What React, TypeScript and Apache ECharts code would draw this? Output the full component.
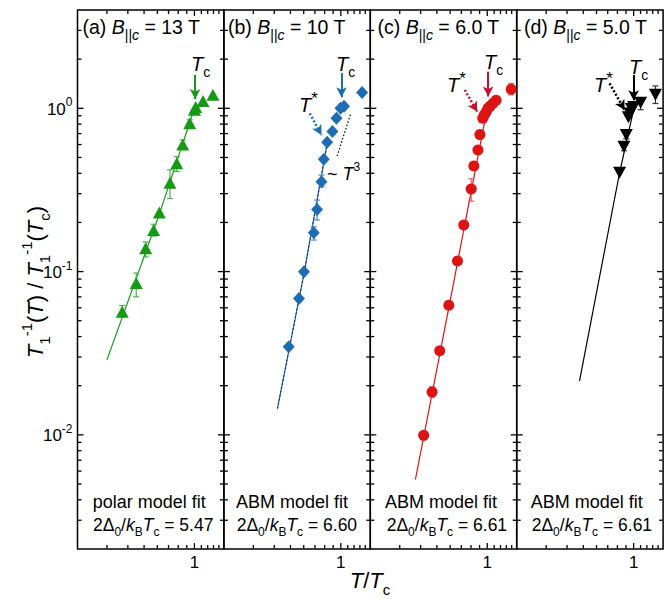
import React, { useEffect, useRef } from 'react';
import * as echarts from 'echarts';

const FONT = '"Liberation Sans", Arial, Helvetica, sans-serif';
const X_MIN = 0.2;
const X_MAX = 1.5;
const Y_MIN = 0.002;
const Y_MAX = 4;

// ---- texts ----
const panelLetters = ['(a)', '(b)', '(c)', '(d)'];
const fieldLabels = ['13 T', '10 T', '6.0 T', '5.0 T'];
const fitLabels = ['polar model fit', 'ABM model fit', 'ABM model fit', 'ABM model fit'];
const gapLabels = ['5.47', '6.60', '6.61', '6.61'];

// ---- tick values ----
const xMajorTicks = [1];
const xMinorTicks = [0.3, 0.4, 0.5, 0.6, 0.7, 0.8, 0.9, 1.1, 1.2, 1.3, 1.4];
const yMajorTicks = [0.01, 0.1, 1];
const yMajorExponents = [-2, -1, 0];
const yMinorTicks = [0.003, 0.004, 0.005, 0.006, 0.007, 0.008, 0.009, 0.02, 0.03, 0.04, 0.05, 0.06, 0.07, 0.08, 0.09, 0.2, 0.3, 0.4, 0.5, 0.6, 0.7, 0.8, 0.9, 2, 3];
const xTickLabelValues = [1];

// ---- (a) B||c = 13 T ----
const aT = [0.37, 0.449, 0.511, 0.57, 0.617, 0.714, 0.784, 0.851, 0.937, 1.0, 1.018, 1.125, 1.29];
const aR = [0.0567, 0.085, 0.139, 0.18, 0.23, 0.35, 0.46, 0.6, 0.81, 0.98, 1.02, 1.11, 1.21];
const aErrT = [0.37, 0.449, 0.511, 0.57, 0.714, 0.784, 0.851, 0.937];
const aErrLo = [0.053, 0.07, 0.123, 0.165, 0.28, 0.41, 0.57, 0.77];
const aErrHi = [0.062, 0.098, 0.152, 0.195, 0.42, 0.505, 0.64, 0.85];
const aFitT = [0.3, 0.617, 1.0];
const aFitR = [0.0288, 0.225, 1.0];

// ---- (b) B||c = 10 T ----
const bT = [0.488, 0.562, 0.602, 0.689, 0.721, 0.766, 0.791, 0.828, 0.891, 0.942, 0.995, 1.045, 1.34];
const bR = [0.0346, 0.0685, 0.0998, 0.173, 0.24, 0.355, 0.487, 0.62, 0.72, 0.87, 1.0, 1.03, 1.25];
const bErrT = [0.689, 0.721, 0.766];
const bErrLo = [0.156, 0.207, 0.33];
const bErrHi = [0.188, 0.274, 0.39];
const bFitT = [0.418, 0.602, 0.84];
const bFitR = [0.0145, 0.097, 0.66];
const bPowT = [0.95, 1.143];
const bPowR = [0.51, 0.92];

// ---- (c) B||c = 6.0 T ----
const cT = [0.417, 0.468, 0.52, 0.589, 0.664, 0.724, 0.802, 0.832, 0.88, 0.904, 0.94, 0.96, 0.985, 1.01, 1.04, 1.08, 1.13, 1.39];
const cR = [0.00996, 0.0183, 0.0327, 0.0623, 0.116, 0.193, 0.32, 0.443, 0.555, 0.69, 0.87, 0.91, 0.95, 1.0, 1.03, 1.07, 1.12, 1.31];
const cErrT = [0.417, 0.468, 0.802, 1.39];
const cErrLo = [0.0093, 0.017, 0.27, 1.21];
const cErrHi = [0.0104, 0.0197, 0.37, 1.42];
const cFitT = [0.372, 0.589, 1.0];
const cFitR = [0.00533, 0.06, 1.0];

// ---- (d) B||c = 5.0 T ----
const dT = [0.824, 0.875, 0.904, 0.93, 0.952, 0.97, 1.0, 1.1, 1.35];
const dR = [0.403, 0.582, 0.686, 0.88, 0.93, 0.99, 1.02, 1.08, 1.21];
const dErrT = [0.875, 0.904, 1.1, 1.35];
const dErrLo = [0.55, 0.65, 0.98, 1.07];
const dErrHi = [0.61, 0.72, 1.15, 1.37];
const dFitT = [0.475, 0.824, 1.0];
const dFitR = [0.0214, 0.403, 0.98];

// ---- arrows (data coords) ----
const tcArrowT = [1.01, 1.009, 1.013, 1.0];
const tcArrowFrom = [1.6, 1.645, 1.675, 1.6];
const tcArrowTo = [1.14, 1.17, 1.18, 1.12];
const tStarFromT = [0, 0.652, 0.734, 0.718];
const tStarFromR = [0, 0.93, 1.295, 1.42];
const tStarToT = [0, 0.766, 0.871, 0.883];
const tStarToR = [0, 0.686, 0.953, 0.976];

// ---- layout ----
const GRID_LEFT = 77.5;
const PANEL_W = 146.4;
const GRID_TOP = 10;
const GRID_H = 539;
const MAJOR_LEN = 6;
const MINOR_LEN = 4;

const zip = (xs: number[], ys: number[]) => xs.map((x, i) => [x, ys[i]]);
const zip3 = (xs: number[], a: number[], b: number[]) => xs.map((x, i) => [x, a[i], b[i]]);

function rich(size: number, subScale = 0.68, supSize?: number) {
  const sub = Math.round(size * subScale);
  const sup = supSize || sub;
  const lh = Math.round(size * 1.5);
  const base = { fontFamily: FONT, fill: '#000', color: '#000' };
  return {
    n: { ...base, fontSize: size, lineHeight: lh },
    i: { ...base, fontSize: size, fontStyle: 'italic', lineHeight: lh },
    sb: { ...base, fontSize: sub, verticalAlign: 'bottom', lineHeight: Math.round(sub * 1.2) },
    sbi: { ...base, fontSize: sub, fontStyle: 'italic', verticalAlign: 'bottom', lineHeight: Math.round(sub * 1.2) },
    sp: { ...base, fontSize: sup, verticalAlign: 'top', lineHeight: Math.round(sup * 1.2) },
  };
}

function txt(x: number, y: number, text: string, size: number, opts: any = {}) {
  return {
    type: 'text',
    x,
    y,
    z: 100,
    rotation: opts.rotation || 0,
    style: {
      text,
      rich: rich(size, opts.subScale, opts.supSize),
      fontFamily: FONT,
      fontSize: size,
      fill: '#000',
      align: opts.align || 'left',
      verticalAlign: 'middle',
    },
  };
}

// Frame ticks for one panel: a single polyline-free set of short segments drawn as one custom item
// per edge, positioned through the panel's own axes (api.coord).
function frameTickSeries(k: number) {
  const xTicks = [...xMajorTicks.map((v) => [v, MAJOR_LEN]), ...xMinorTicks.map((v) => [v, MINOR_LEN])];
  const yTicks = [...yMajorTicks.map((v) => [v, MAJOR_LEN]), ...yMinorTicks.map((v) => [v, MINOR_LEN])];
  return {
    type: 'custom',
    xAxisIndex: k,
    yAxisIndex: k,
    data: [[1, 1]],
    encode: { x: 0, y: 1 },
    z: 30,
    silent: true,
    clip: false,
    renderItem: (_params: any, api: any) => {
      const children: any[] = [];
      const seg = (x1: number, y1: number, x2: number, y2: number) =>
        children.push({
          type: 'polygon',
          shape: {
            points: x1 === x2
              ? [[x1 - 0.65, y1], [x1 + 0.65, y1], [x2 + 0.65, y2], [x2 - 0.65, y2]]
              : [[x1, y1 - 0.65], [x1, y1 + 0.65], [x2, y2 + 0.65], [x2, y2 - 0.65]],
          },
          style: { fill: '#000000' },
        });
      xTicks.forEach(([v, len]) => {
        const b = api.coord([v, Y_MIN]);
        const t = api.coord([v, Y_MAX]);
        seg(b[0], b[1] - 0.5, b[0], b[1] - len);
        seg(t[0], t[1] + 0.5, t[0], t[1] + len);
      });
      yTicks.forEach(([v, len]) => {
        const l = api.coord([X_MIN, v]);
        const r = api.coord([X_MAX, v]);
        seg(l[0] + 0.5, l[1], l[0] + len, l[1]);
        seg(r[0] - 0.5, r[1], r[0] - len, r[1]);
      });
      return { type: 'group', children };
    },
  };
}

function buildOption() {
  const GREEN = '#169a16';
  const BLUE = '#1e6db4';
  const RED = '#dc1414';
  const BLACK = '#000000';
  const panels = [
    { T: aT, R: aR, eT: aErrT, eLo: aErrLo, eHi: aErrHi, fT: aFitT, fR: aFitR, color: GREEN, err: '#4fb04f', arrow: GREEN, star: GREEN, symbol: 'triangle', size: [13, 12], rot: 0 },
    { T: bT, R: bR, eT: bErrT, eLo: bErrLo, eHi: bErrHi, fT: bFitT, fR: bFitR, color: BLUE, err: '#4b8fd0', arrow: BLUE, star: BLUE, symbol: 'diamond', size: [12, 13], rot: 0 },
    { T: cT, R: cR, eT: cErrT, eLo: cErrLo, eHi: cErrHi, fT: cFitT, fR: cFitR, color: RED, err: '#e86060', arrow: '#c8102e', star: '#c8102e', symbol: 'circle', size: 11, rot: 0 },
    { T: dT, R: dR, eT: dErrT, eLo: dErrLo, eHi: dErrHi, fT: dFitT, fR: dFitR, color: BLACK, err: '#333333', arrow: BLACK, star: BLACK, symbol: 'triangle', size: [13, 12], rot: 180 },
  ];

  const grid: any[] = [];
  const xAxis: any[] = [];
  const yAxis: any[] = [];
  const series: any[] = [];

  panels.forEach((p, k) => {
    grid.push({
      left: GRID_LEFT + k * PANEL_W,
      top: GRID_TOP,
      width: PANEL_W,
      height: GRID_H,
      show: true,
      borderColor: '#000',
      borderWidth: 1.5,
      backgroundColor: 'rgba(0,0,0,0)',
      containLabel: false,
    });
    const hidden = { axisLine: { show: false }, axisTick: { show: false }, axisLabel: { show: false }, splitLine: { show: false } };
    xAxis.push({ type: 'log', logBase: 10, gridIndex: k, min: X_MIN, max: X_MAX, ...hidden });
    yAxis.push({ type: 'log', logBase: 10, gridIndex: k, min: Y_MIN, max: Y_MAX, ...hidden });

    // fit line
    series.push({
      type: 'line', xAxisIndex: k, yAxisIndex: k, data: zip(p.fT, p.fR), showSymbol: false, symbol: 'none',
      lineStyle: { color: p.color, width: 1.2 }, z: 2, silent: true,
    });
    if (k === 1) {
      series.push({
        type: 'line', xAxisIndex: k, yAxisIndex: k, data: zip(p.fT, p.fR), showSymbol: false, symbol: 'none',
        lineStyle: { color: '#0b2a50', width: 1, type: [2, 2] }, z: 3, silent: true,
      });
      series.push({
        type: 'line', xAxisIndex: k, yAxisIndex: k, data: zip(bPowT, bPowR), showSymbol: false, symbol: 'none',
        lineStyle: { color: '#000', width: 1.2, type: [1.5, 2] }, z: 3, silent: true,
      });
    }
    // error bars
    series.push({
      type: 'custom', xAxisIndex: k, yAxisIndex: k, data: zip3(p.eT, p.eLo, p.eHi), encode: { x: 0, y: [1, 2] }, z: 4, silent: true,
      renderItem: (_params: any, api: any) => {
        const lo = api.coord([api.value(0), api.value(1)]);
        const hi = api.coord([api.value(0), api.value(2)]);
        const st = { stroke: p.err, lineWidth: 1.2 };
        return {
          type: 'group',
          children: [
            { type: 'line', shape: { x1: lo[0], y1: lo[1], x2: hi[0], y2: hi[1] }, style: st },
            { type: 'line', shape: { x1: lo[0] - 3, y1: lo[1], x2: lo[0] + 3, y2: lo[1] }, style: st },
            { type: 'line', shape: { x1: hi[0] - 3, y1: hi[1], x2: hi[0] + 3, y2: hi[1] }, style: st },
          ],
        };
      },
    });
    // arrows
    const mlData: any[] = [
      [
        { coord: [tcArrowT[k], tcArrowFrom[k]], symbol: 'none', lineStyle: { color: p.arrow, width: 2, type: 'solid' } },
        { coord: [tcArrowT[k], tcArrowTo[k]], symbol: 'arrow' },
      ],
    ];
    if (k > 0) {
      mlData.push([
        { coord: [tStarFromT[k], tStarFromR[k]], symbol: 'none', lineStyle: { color: p.star, width: 2.5, type: [2, 2] } },
        { coord: [tStarToT[k], tStarToR[k]], symbol: 'arrow' },
      ]);
    }
    // data points
    series.push({
      type: 'scatter', xAxisIndex: k, yAxisIndex: k, data: zip(p.T, p.R), symbol: p.symbol, symbolSize: p.size, symbolRotate: p.rot,
      itemStyle: { color: p.color, opacity: 1 }, z: 5, silent: true,
      markLine: {
        silent: true, symbol: ['none', 'arrow'], symbolSize: [8, 10], label: { show: false }, emphasis: { disabled: true },
        data: mlData, z: 6,
      },
    });

    // frame ticks
    series.push(frameTickSeries(k));

    // x tick labels
    series.push({
      type: 'custom', xAxisIndex: k, yAxisIndex: k, data: xTickLabelValues.map((v) => [v, 1]), encode: { x: 0, y: 1 }, z: 20, silent: true,
      renderItem: (_params: any, api: any) => {
        const b = api.coord([api.value(0), Y_MIN]);
        return {
          type: 'text', x: b[0], y: b[1] + 13,
          style: { text: '1', align: 'center', verticalAlign: 'middle', fill: '#000', fontFamily: FONT, fontSize: 17 },
        };
      },
    });
    if (k === 0) {
      series.push({
        type: 'custom', xAxisIndex: k, yAxisIndex: k, data: yMajorTicks.map((v, j) => [1, v, yMajorExponents[j]]), encode: { x: 0, y: 1 }, z: 20, silent: true,
        renderItem: (_params: any, api: any) => {
          const l = api.coord([X_MIN, api.value(1)]);
          return {
            type: 'text', x: l[0] - 5, y: l[1] + 1,
            style: {
              text: `{n|10}{sp|${api.value(2)}}`, rich: rich(17), align: 'right', verticalAlign: 'middle',
              fill: '#000', fontFamily: FONT, fontSize: 17,
            },
          };
        },
      });
    }
  });

  const titleX = [82.5, 228, 377.5, 524];
  const fitX = [92.7, 236, 385, 530.7];
  const gapX = [93, 236.7, 386.7, 531.7];
  const graphic: any[] = [];
  for (let k = 0; k < 4; k++) {
    graphic.push(txt(titleX[k], 27, `{n|${panelLetters[k]} }{i|B}{sb|||}{sbi|c}{n| = ${fieldLabels[k]}}`, 19.5, { subScale: 0.72 }));
    graphic.push(txt(fitX[k], 501.5, `{n|${fitLabels[k]}}`, 18));
    graphic.push(txt(gapX[k], 525, `{n|2Δ}{sb|0}{n|/}{i|k}{sb|B}{i|T}{sb|c}{n| = ${gapLabels[k]}}`, 17.5));
  }
  // Tc labels
  const tcLabelPos = [[191, 64], [336, 64], [484, 62], [629, 67]];
  tcLabelPos.forEach(([x, y]) => graphic.push(txt(x, y, '{i|T}{sb|c}', 20)));
  // T* labels
  const tStarPos = [[299, 105], [447, 85], [594, 85]];
  tStarPos.forEach(([x, y]) => graphic.push(txt(x, y, '{i|T}{sp|*}', 20, { supSize: 17 })));
  // ~T^3
  graphic.push(txt(327, 174, '{n|~ }{i|T}{sp|3}', 18));
  // axis titles
  graphic.push(txt(370, 580, '{i|T}{n|/}{i|T}{sb|c}', 22, { align: 'center' }));
  graphic.push(txt(35, 282, '{i|T}{sb|1}{sp|-1}{n|(}{i|T}{n|) / }{i|T}{sb|1}{sp|-1}{n|(}{i|T}{sb|c}{n|)}', 22, { align: 'center', rotation: Math.PI / 2 }));

  return {
    animation: false,
    backgroundColor: '#fff',
    grid,
    xAxis,
    yAxis,
    series,
    graphic,
  };
}

export default function App() {
  const ref = useRef<HTMLDivElement>(null);
  useEffect(() => {
    const chart = echarts.init(ref.current!, undefined, { renderer: 'svg' });
    chart.setOption(buildOption() as any);
    return () => chart.dispose();
  }, []);
  return (
    <div
      ref={ref}
      style={{ position: 'fixed', left: 0, top: 0, width: 672, height: 599, background: '#fff' }}
    />
  );
}
